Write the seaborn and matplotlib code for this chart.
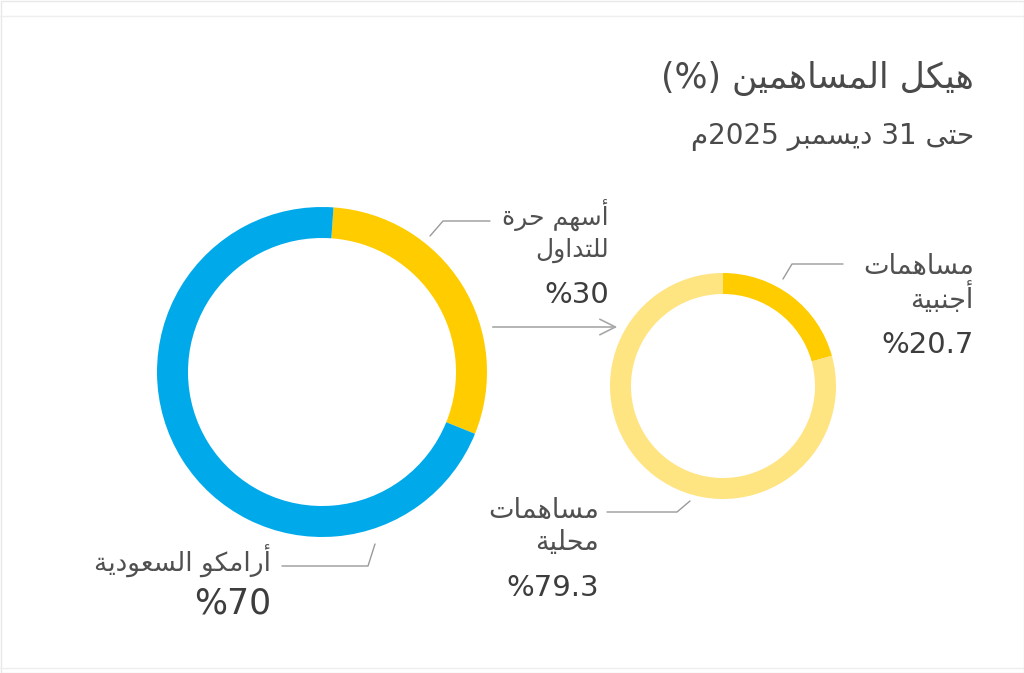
import re
import matplotlib
matplotlib.use("Agg")
import matplotlib.pyplot as plt
from matplotlib.patches import Rectangle
import seaborn as sns

# data
title = "هيكل المساهمين (%)"
subtitle = "حتى 31 ديسمبر 2025م"

share_labels = ["أسهم حرة\nللتداول", "أرامكو السعودية"]
share_values = [30, 70]
share_colors = ["#FFCC00", "#00AAEA"]

free_labels = ["مساهمات\nأجنبية", "مساهمات\nمحلية"]
free_values = [20.7, 79.3]
free_colors = ["#FFCC00", "#FFE482"]

# matplotlib has no arabic shaping, so map letters to presentation forms
# (isolated, final, initial, medial) and reverse for display
FORMS = {
    'ا': (0xFE8D, 0xFE8E, None, None),
    'أ': (0xFE83, 0xFE84, None, None),
    'ب': (0xFE8F, 0xFE90, 0xFE91, 0xFE92),
    'ة': (0xFE93, 0xFE94, None, None),
    'ت': (0xFE95, 0xFE96, 0xFE97, 0xFE98),
    'ج': (0xFE9D, 0xFE9E, 0xFE9F, 0xFEA0),
    'ح': (0xFEA1, 0xFEA2, 0xFEA3, 0xFEA4),
    'د': (0xFEA9, 0xFEAA, None, None),
    'ر': (0xFEAD, 0xFEAE, None, None),
    'س': (0xFEB1, 0xFEB2, 0xFEB3, 0xFEB4),
    'ع': (0xFEC9, 0xFECA, 0xFECB, 0xFECC),
    'ك': (0xFED9, 0xFEDA, 0xFEDB, 0xFEDC),
    'ل': (0xFEDD, 0xFEDE, 0xFEDF, 0xFEE0),
    'م': (0xFEE1, 0xFEE2, 0xFEE3, 0xFEE4),
    'ن': (0xFEE5, 0xFEE6, 0xFEE7, 0xFEE8),
    'ه': (0xFEE9, 0xFEEA, 0xFEEB, 0xFEEC),
    'و': (0xFEED, 0xFEEE, None, None),
    'ى': (0xFEEF, 0xFEF0, None, None),
    'ي': (0xFEF1, 0xFEF2, 0xFEF3, 0xFEF4),
}


def shape(s):
    out = []
    for i, c in enumerate(s):
        if c not in FORMS:
            out.append(c)
            continue
        prev = s[i - 1] if i > 0 else ''
        nxt = s[i + 1] if i + 1 < len(s) else ''
        jp = prev in FORMS and FORMS[prev][2] is not None
        jn = FORMS[c][2] is not None and nxt in FORMS
        f = FORMS[c]
        g = f[3] if (jp and jn) else f[1] if jp else f[2] if jn else f[0]
        out.append(chr(g))
    return ''.join(out)


def rtl(s):
    runs = re.findall(r'[0-9.]+|[^0-9.]+', shape(s))
    vis = []
    for r in reversed(runs):
        if r[0].isdigit():
            vis.append(r)
        else:
            vis.append(r[::-1].translate(str.maketrans('()', ')(')))
    return ''.join(vis)


sns.set_theme(style="white")
plt.rcParams['font.family'] = ['DejaVu Sans']

W, H = 1024, 673
fig = plt.figure(figsize=(W / 100, H / 100), dpi=100)
ax = fig.add_axes([0, 0, 1, 1])


def Y(y):
    return H - y


# donuts
ax.pie(share_values, colors=share_colors, startangle=86, counterclock=False,
       center=(322, Y(372)), radius=165,
       wedgeprops=dict(width=31, edgecolor='none'))
ax.pie(free_values, colors=free_colors, startangle=90, counterclock=False,
       center=(723, Y(386)), radius=113,
       wedgeprops=dict(width=21, edgecolor='none'))

ax.set_xlim(0, W)
ax.set_ylim(0, H)
ax.set_aspect('equal')
ax.axis('off')

# frame
ax.add_patch(Rectangle((0.5, 0.5), W - 1, H - 1, fill=False, edgecolor='#e8e8e8', lw=1))
ax.plot([0, W], [Y(16), Y(16)], color='#eeeeee', lw=1)
ax.plot([0, W], [Y(668), Y(668)], color='#eeeeee', lw=1)

# titles
tc = '#4a4a4a'
ax.text(974, Y(78), rtl(title), ha='right', va='center', fontsize=25, color=tc)
ax.text(974, Y(137), rtl(subtitle), ha='right', va='center', fontsize=20, color=tc)

# arrow between donuts
ax.annotate('', xy=(620, Y(327)), xytext=(490, Y(327)),
            arrowprops=dict(arrowstyle='->', color='#a8a8a8', lw=1.2, mutation_scale=28))

# leader lines
lc = '#9a9a9a'
ax.plot([430, 443, 490], [Y(236), Y(221), Y(221)], color=lc, lw=1)
ax.plot([783, 792, 843], [Y(279), Y(264), Y(264)], color=lc, lw=1)
ax.plot([607, 677, 690], [Y(512), Y(512), Y(501)], color=lc, lw=1)
ax.plot([282, 368, 375], [Y(566), Y(566), Y(544)], color=lc, lw=1)


def label(x, ys, text, value, pct_y, size=19.5, pct_size=21):
    for line, y in zip(text.split('\n'), ys):
        ax.text(x, Y(y), rtl(line), ha='right', va='center', fontsize=size, color='#505050')
    ax.text(x, Y(pct_y), f"%{value:g}", ha='right', va='center',
            fontsize=pct_size, color='#3d3d3d')


label(609, [215, 250], share_labels[0], share_values[0], 295, size=18)
label(271, [561], share_labels[1], share_values[1], 603, size=19, pct_size=25)
label(974, [267, 298], free_labels[0], free_values[0], 345)
label(599, [511, 543], free_labels[1], free_values[1], 588)

fig.savefig('out.png', dpi=100, facecolor='white')
